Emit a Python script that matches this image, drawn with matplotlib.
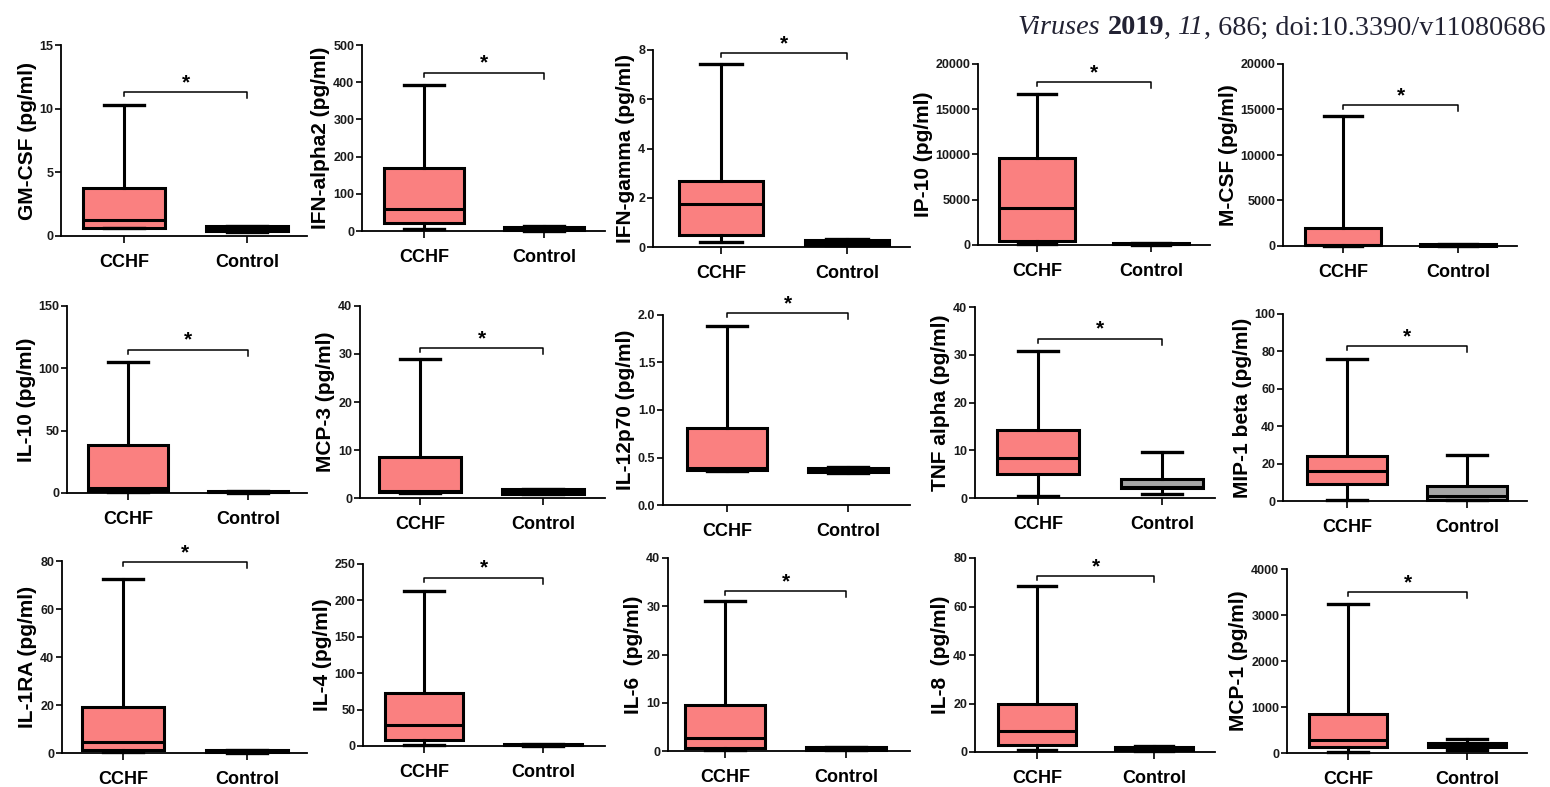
import matplotlib.pyplot as plt

plt.rcParams['font.family'] = ['Liberation Sans', 'DejaVu Sans']

W, H = 1550, 787

groups = ['CCHF', 'Control']
ylabels = ['GM-CSF (pg/ml)', 'IFN-alpha2 (pg/ml)', 'IFN-gamma (pg/ml)', 'IP-10 (pg/ml)',
           'M-CSF (pg/ml)', 'IL-10 (pg/ml)', 'MCP-3 (pg/ml)', 'IL-12p70 (pg/ml)',
           'TNF alpha (pg/ml)', 'MIP-1 beta (pg/ml)', 'IL-1RA (pg/ml)', 'IL-4 (pg/ml)',
           'IL-6  (pg/ml)', 'IL-8  (pg/ml)', 'MCP-1 (pg/ml)']
yticks = [[0, 5, 10, 15], [0, 100, 200, 300, 400, 500], [0, 2, 4, 6, 8],
          [0, 5000, 10000, 15000, 20000], [0, 5000, 10000, 15000, 20000],
          [0, 50, 100, 150], [0, 10, 20, 30, 40], [0.0, 0.5, 1.0, 1.5, 2.0],
          [0, 10, 20, 30, 40], [0, 20, 40, 60, 80, 100], [0, 20, 40, 60, 80],
          [0, 50, 100, 150, 200, 250], [0, 10, 20, 30, 40], [0, 20, 40, 60, 80],
          [0, 1000, 2000, 3000, 4000]]

# min, q1, median, q3, max
cchf = [[0.6, 0.65, 1.25, 3.75, 10.3],
        [5, 22, 59, 170, 392],
        [0.22, 0.47, 1.73, 2.66, 7.42],
        [80, 480, 4070, 9630, 16670],
        [20, 60, 100, 1950, 14340],
        [0.5, 1.3, 4.3, 38.4, 105],
        [1.0, 1.2, 1.5, 8.6, 29],
        [0.36, 0.365, 0.385, 0.81, 1.88],
        [0.35, 5.0, 8.4, 14.3, 30.8],
        [0.5, 9.2, 16.3, 23.9, 76.2],
        [0.5, 1.1, 4.7, 19.3, 72.6],
        [1.5, 8, 29, 73, 213],
        [0.3, 0.6, 2.7, 9.6, 31],
        [0.8, 3.0, 8.5, 19.8, 68.5],
        [15, 123, 290, 850, 3230]]
control = [[0.35, 0.38, 0.5, 0.75, 0.78],
           [1, 2, 5, 11, 13],
           [0.07, 0.1, 0.18, 0.28, 0.31],
           [50, 80, 120, 220, 260],
           [20, 40, 80, 180, 220],
           [0.3, 0.5, 0.9, 1.6, 1.9],
           [0.8, 0.9, 1.3, 1.8, 1.9],
           [0.34, 0.345, 0.37, 0.39, 0.40],
           [0.84, 2.0, 2.4, 4.0, 9.65],
           [0.3, 0.5, 2.5, 8.0, 24.4],
           [0.2, 0.4, 0.8, 1.3, 1.4],
           [0.5, 0.8, 1.5, 2.5, 3.0],
           [0.2, 0.3, 0.5, 0.8, 0.9],
           [0.5, 0.8, 1.2, 2.0, 2.6],
           [58, 130, 180, 217, 312]]
bracket_y = [11.3, 426, 7.86, 17960, 15480, 115, 31.2, 2.02, 33.4, 82.8, 79.4, 231, 33.1, 72.5, 3500]

# panel frames in pixels: left, right, top, bottom, x of CCHF, x of Control
frames = [(61, 307, 45, 236, 124, 247), (362, 605, 45, 231, 424, 544),
          (653, 910, 50, 247, 721, 847), (978, 1210, 64, 245, 1037, 1151),
          (1283, 1517, 64, 246, 1343, 1458),
          (67, 307, 306, 493, 128, 248), (360, 605, 306, 498, 420, 543),
          (663, 910, 315, 505, 727, 848), (975, 1215, 307, 498, 1038, 1162),
          (1283, 1527, 314, 501, 1347, 1467),
          (62, 307, 561, 753, 123, 247), (363, 605, 564, 746, 424, 543),
          (668, 910, 558, 751, 725, 846), (975, 1215, 558, 752, 1037, 1154),
          (1287, 1527, 569, 753, 1348, 1467)]

fill_cchf = '#fa8080'
fill_ctrl = '#a6a6a6'

fig = plt.figure(figsize=(W / 100, H / 100), dpi=100)

for i in range(15):
    L, R, T, B, c1, c2 = frames[i]
    ax = fig.add_axes([L / W, 1 - B / H, (R - L) / W, (B - T) / H])
    step = c2 - c1
    ax.set_xlim(1 - (c1 - L) / step, 2 + (R - c2) / step)
    ymax = yticks[i][-1]
    ax.set_ylim(0, ymax)
    px = ymax / (B - T)

    stats = []
    for vals, name in zip([cchf[i], control[i]], groups):
        lo, q1, med, q3, hi = vals
        stats.append(dict(whislo=lo, q1=q1, med=med, q3=q3, whishi=hi, label=name))
    bp = ax.bxp(stats, positions=[1, 2], widths=0.66, capwidths=0.33,
                patch_artist=True, showfliers=False,
                boxprops=dict(linewidth=2.2, edgecolor='black'),
                whiskerprops=dict(linewidth=2.2, color='black'),
                capprops=dict(linewidth=2.4, color='black'),
                medianprops=dict(linewidth=2.2, color='black'))
    bp['boxes'][0].set_facecolor(fill_cchf)
    # very short control boxes print as solid black bars
    ctrl_h = (control[i][3] - control[i][1]) / px
    bp['boxes'][1].set_facecolor(fill_ctrl if ctrl_h > 8 else 'black')
    for key in ['boxes', 'whiskers', 'caps', 'medians']:
        for art in bp[key]:
            art.set_clip_on(False)

    # significance bracket
    by = bracket_y[i]
    ax.plot([1, 1, 2, 2], [by - 4 * px, by, by, by - 6 * px], color='black',
            lw=1.1, clip_on=False)
    ax.annotate('*', xy=(1.5, by), xytext=(0, 0), textcoords='offset points',
                ha='center', va='bottom', fontsize=15, fontweight='bold',
                annotation_clip=False)

    ax.set_yticks(yticks[i])
    if i == 7:
        ax.set_yticklabels(['%.1f' % v for v in yticks[i]])
    for sp in ['top', 'right']:
        ax.spines[sp].set_visible(False)
    for sp in ['left', 'bottom']:
        ax.spines[sp].set_linewidth(1.3)
    ax.tick_params(axis='y', length=4, width=1.2, labelsize=9, pad=1.5,
                   labelcolor='#1a1a1a')
    ax.tick_params(axis='x', length=5, width=1.2, labelsize=13, pad=8)
    for lab in ax.get_yticklabels() + ax.get_xticklabels():
        lab.set_fontweight('bold')
    ax.set_ylabel(ylabels[i], fontsize=15, fontweight='bold', labelpad=2)

# journal citation line, pieces set in different styles
cite = [('Viruses', 'italic', 'normal'), (' ', 'normal', 'normal'),
        ('2019', 'normal', 'bold'), (', ', 'normal', 'normal'),
        ('11', 'italic', 'normal'), (', 686; doi:10.3390/v11080686', 'normal', 'normal')]
renderer = fig.canvas.get_renderer()
pieces = []
for s, style, weight in cite:
    t = fig.text(0, 1 - 28 / H, s, ha='left', va='center', fontsize=20.3,
                 family='Liberation Serif', style=style, weight=weight,
                 color='#222233')
    pieces.append(t)
widths = [t.get_window_extent(renderer).width for t in pieces]
x = 1546 - sum(widths)
for t, w in zip(pieces, widths):
    t.set_x(x / W)
    x += w

fig.savefig('out.png', dpi=100, facecolor='white')
